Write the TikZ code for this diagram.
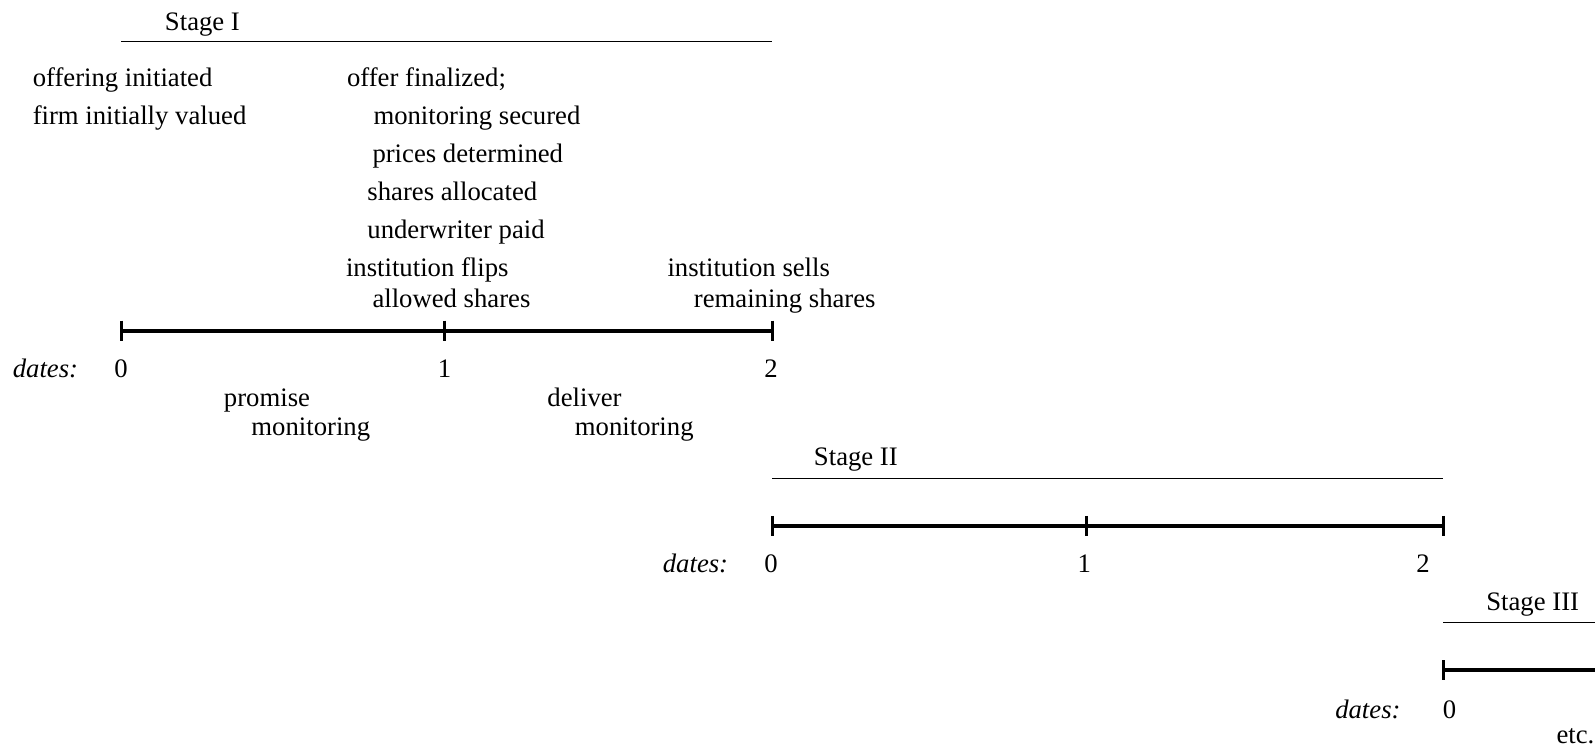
\documentclass[tikz,border=0pt]{standalone}
\usepackage{fontspec}
\setmainfont{Liberation Serif}
\begin{document}
\begin{tikzpicture}[x=1.0172pt,y=-1.0172pt,
  lbl/.style={anchor=base west,inner sep=0pt,font=\fontsize{26.7}{32}\selectfont},
  num/.style={anchor=base,inner sep=0pt,font=\fontsize{26.7}{32}\selectfont},
  dlbl/.style={anchor=base east,inner sep=0pt,font=\fontsize{26.7}{32}\selectfont\itshape},
  axisline/.style={line width=4pt},
  tickmark/.style={line width=3pt},
  stageline/.style={line width=1.2pt}]
\useasboundingbox (0,0) rectangle (1568,735);
% Stage I
\node[lbl] (s1) at (162,30) {Stage I};
\coordinate (s1a) at (119,41); \coordinate (s1b) at (759,41);
\draw[stageline] (s1a) -- (s1b);
\node[lbl] (e1) at (32,85) {offering initiated};
\node[lbl] (e2) at (32,122) {firm initially valued};
\node[lbl] (f1) at (341,85) {offer finalized;};
\node[lbl] (f2) at (367,122) {monitoring secured};
\node[lbl] (f3) at (366,160) {prices determined};
\node[lbl] (f4) at (361,197) {shares allocated};
\node[lbl] (f5) at (361,234) {underwriter paid};
\node[lbl] (f6) at (340,272) {institution flips};
\node[lbl] (f7) at (366,302) {allowed shares};
\node[lbl] (g1) at (656,272) {institution sells};
\node[lbl] (g2) at (682,302) {remaining shares};
\coordinate (a0) at (119,325); \coordinate (a1) at (437,325); \coordinate (a2) at (759,325);
\draw[axisline] (a0) -- (a2);
\foreach \p in {a0,a1,a2} \draw[tickmark] ([yshift=10pt]\p) -- ([yshift=-10pt]\p);
\node[dlbl] (d1) at (77,371) {dates:};
\node[num] (n10) at (119,371) {0};
\node[num] (n11) at (437,371) {1};
\node[num] (n12) at (758,371) {2};
\node[lbl] (p1) at (220,400) {promise};
\node[lbl] (p2) at (247,428) {monitoring};
\node[lbl] (q1) at (538,400) {deliver};
\node[lbl] (q2) at (565,428) {monitoring};
% Stage II
\node[lbl] (s2) at (800,458) {Stage II};
\coordinate (s2a) at (759,470); \coordinate (s2b) at (1419,470);
\draw[stageline] (s2a) -- (s2b);
\coordinate (b0) at (759,517); \coordinate (b1) at (1068,517); \coordinate (b2) at (1419,517);
\draw[axisline] (b0) -- (b2);
\foreach \p in {b0,b1,b2} \draw[tickmark] ([yshift=10pt]\p) -- ([yshift=-10pt]\p);
\node[dlbl] (d2) at (716,563) {dates:};
\node[num] (n20) at (758,563) {0};
\node[num] (n21) at (1066,563) {1};
\node[num] (n22) at (1399,563) {2};
% Stage III
\node[lbl] (s3) at (1461,600) {Stage III};
\coordinate (s3a) at (1419,612); \coordinate (s3b) at (1568,612);
\draw[stageline] (s3a) -- (s3b);
\coordinate (c0) at (1419,659); \coordinate (c1) at (1568,659);
\draw[axisline] (c0) -- (c1);
\draw[tickmark] ([yshift=10pt]c0) -- ([yshift=-10pt]c0);
\node[dlbl] (d3) at (1377,706) {dates:};
\node[num] (n30) at (1425,706) {0};
\node[lbl] (etc) at (1530,731) {etc.};
\end{tikzpicture}
\end{document}
